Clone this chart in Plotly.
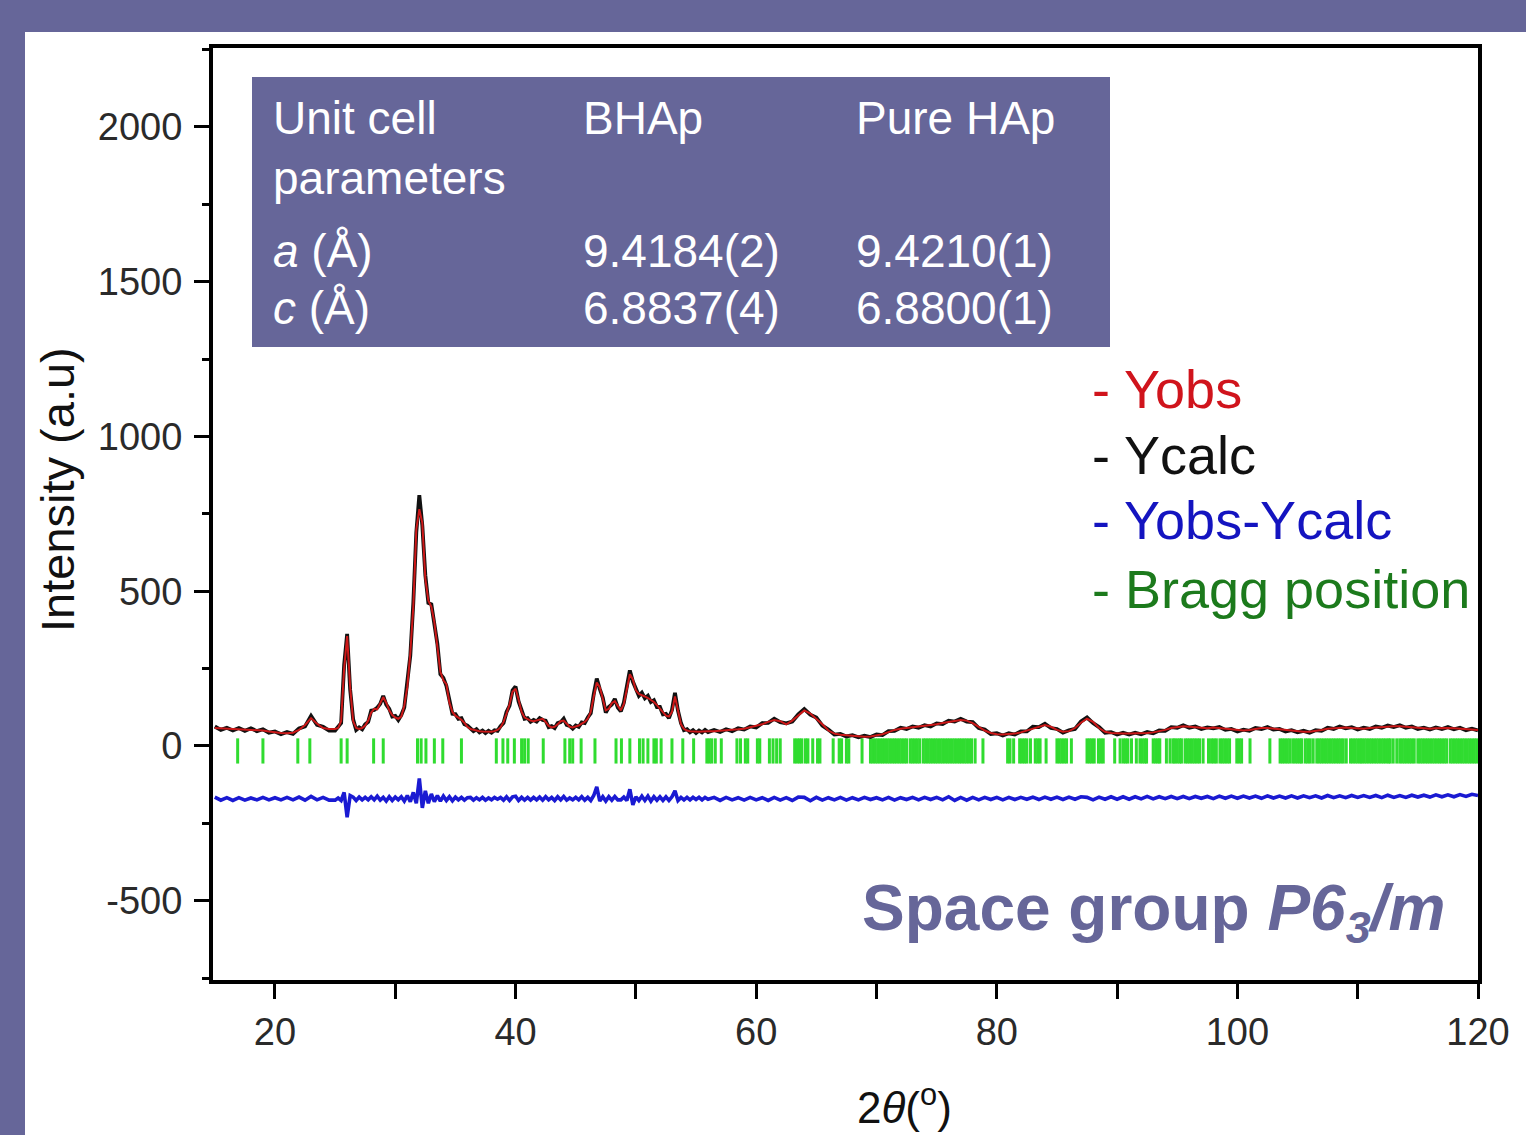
import plotly.graph_objects as go

# ---------------- data ----------------
# segment 1: 15.0 - 24.5 deg (step 0.5)
tt_1 = [15.0, 15.5, 16.0, 16.5, 17.0, 17.5, 18.0, 18.5, 19.0, 19.5,
        20.0, 20.5, 21.0, 21.5, 22.0, 22.5, 23.0, 23.5, 24.0, 24.5]
calc_1 = [58, 57, 56, 55, 55, 54, 54, 52, 50, 47,
          44, 42, 41, 43, 52, 68, 90, 72, 58, 55]
obs_1 = [63, 52, 59, 50, 58, 49, 57, 48, 54, 43,
         47, 38, 45, 39, 57, 63, 97, 68, 62, 50]
diff_1 = [-165, -175, -167, -176, -167, -175, -168, -174, -166, -174,
          -167, -174, -166, -174, -165, -175, -163, -174, -166, -175]

# segment 2: 25.0 - 36.0 deg (step 0.25)
tt_2 = [25.0, 25.25, 25.5, 25.75, 26.0, 26.25, 26.5, 26.75, 27.0,
        27.25, 27.5, 27.75, 28.0, 28.25, 28.5, 28.75, 29.0,
        29.25, 29.5, 29.75, 30.0, 30.25, 30.5, 30.75, 31.0,
        31.25, 31.5, 31.75, 32.0, 32.25, 32.5, 32.75, 33.0,
        33.25, 33.5, 33.75, 34.0, 34.25, 34.5, 34.75, 35.0,
        35.25, 35.5, 35.75, 36.0]
calc_2 = [55, 58, 80, 250, 355, 190, 80, 58, 55,
          58, 66, 82, 108, 120, 118, 140, 158,
          140, 115, 100, 92, 88, 95, 130, 190,
          300, 450, 700, 765, 720, 540, 470, 450,
          400, 320, 240, 212, 200, 140, 110, 98,
          92, 85, 75, 62]
obs_2 = [50, 64, 74, 262, 362, 182, 86, 52, 60,
         54, 70, 78, 114, 116, 124, 136, 162,
         134, 120, 95, 97, 84, 100, 124, 198,
         292, 462, 690, 810, 712, 552, 462, 458,
         392, 330, 232, 220, 194, 146, 104, 103,
         88, 90, 70, 66]
diff_2 = [-175, -168, -176, -150, -230, -160, -165, -176, -165,
          -174, -166, -174, -164, -174, -162, -175, -166,
          -178, -164, -176, -165, -174, -164, -178, -160,
          -180, -150, -185, -105, -200, -145, -185, -155,
          -180, -160, -178, -162, -176, -164, -177, -165,
          -174, -166, -175, -167]

# segment 3: 36.25 - 56.0 deg (step 0.25)
tt_3 = [36.25, 36.5, 36.75, 37.0, 37.25, 37.5, 37.75, 38.0,
        38.25, 38.5, 38.75, 39.0, 39.25, 39.5, 39.75, 40.0,
        40.25, 40.5, 40.75, 41.0, 41.25, 41.5, 41.75, 42.0,
        42.25, 42.5, 42.75, 43.0, 43.25, 43.5, 43.75, 44.0,
        44.25, 44.5, 44.75, 45.0, 45.25, 45.5, 45.75, 46.0,
        46.25, 46.5, 46.75, 47.0, 47.25, 47.5, 47.75, 48.0,
        48.25, 48.5, 48.75, 49.0, 49.25, 49.5, 49.75, 50.0,
        50.25, 50.5, 50.75, 51.0, 51.25, 51.5, 51.75, 52.0,
        52.25, 52.5, 52.75, 53.0, 53.25, 53.5, 53.75, 54.0,
        54.25, 54.5, 54.75, 55.0, 55.25, 55.5, 55.75, 56.0]
calc_3 = [55, 52, 50, 48, 47, 46, 46, 46,
          48, 52, 60, 78, 105, 135, 175, 185,
          150, 110, 92, 86, 82, 80, 82, 85,
          88, 78, 65, 60, 62, 70, 80, 82,
          72, 62, 60, 62, 66, 72, 78, 88,
          110, 160, 205, 190, 150, 115, 120, 138,
          145, 130, 115, 135, 190, 232, 215, 180,
          168, 165, 160, 155, 148, 142, 132, 120,
          108, 98, 95, 110, 160, 120, 70, 55,
          50, 48, 47, 46, 46, 47, 48, 48]
obs_3 = [58, 48, 54, 44, 50, 42, 49, 43,
         51, 49, 64, 74, 110, 130, 180, 192,
         144, 114, 88, 90, 78, 84, 79, 90,
         84, 82, 61, 64, 58, 74, 77, 88,
         68, 65, 56, 66, 62, 76, 74, 92,
         106, 168, 218, 184, 156, 108, 126, 134,
         152, 124, 112, 140, 186, 244, 208, 186,
         162, 172, 154, 162, 142, 148, 126, 126,
         102, 104, 90, 116, 172, 114, 74, 51,
         54, 44, 51, 42, 50, 44, 52, 45]
diff_3 = [-166, -175, -167, -174, -166, -175, -168, -174,
          -166, -172, -166, -175, -164, -176, -164, -162,
          -176, -166, -175, -166, -175, -166, -174, -165,
          -175, -164, -174, -166, -176, -164, -174, -163,
          -175, -168, -174, -166, -174, -164, -175, -166,
          -176, -160, -132, -178, -164, -178, -164, -175,
          -163, -174, -174, -165, -176, -140, -190, -164,
          -176, -162, -176, -162, -178, -164, -175, -164,
          -176, -164, -176, -164, -145, -176, -166, -174,
          -166, -174, -166, -173, -166, -174, -166, -172]

# segment 4: 56.5 - 120.0 deg (step 0.5)
tt_4 = [56.5, 57.0, 57.5, 58.0, 58.5, 59.0, 59.5, 60.0,
        60.5, 61.0, 61.5, 62.0, 62.5, 63.0, 63.5, 64.0, 64.5, 65.0,
        65.5, 66.0, 66.5, 67.0, 67.5, 68.0, 68.5, 69.0, 69.5, 70.0,
        70.5, 71.0, 71.5, 72.0, 72.5, 73.0, 73.5, 74.0, 74.5, 75.0,
        75.5, 76.0, 76.5, 77.0, 77.5, 78.0, 78.5, 79.0, 79.5, 80.0,
        80.5, 81.0, 81.5, 82.0, 82.5, 83.0, 83.5, 84.0, 84.5, 85.0,
        85.5, 86.0, 86.5, 87.0, 87.5, 88.0, 88.5, 89.0, 89.5, 90.0,
        90.5, 91.0, 91.5, 92.0, 92.5, 93.0, 93.5, 94.0, 94.5, 95.0,
        95.5, 96.0, 96.5, 97.0, 97.5, 98.0, 98.5, 99.0, 99.5, 100.0,
        100.5, 101.0, 101.5, 102.0, 102.5, 103.0, 103.5, 104.0, 104.5, 105.0,
        105.5, 106.0, 106.5, 107.0, 107.5, 108.0, 108.5, 109.0, 109.5, 110.0,
        110.5, 111.0, 111.5, 112.0, 112.5, 113.0, 113.5, 114.0, 114.5, 115.0,
        115.5, 116.0, 116.5, 117.0, 117.5, 118.0, 118.5, 119.0, 119.5, 120.0]
calc_4 = [48, 49, 50, 52, 54, 56, 60, 64,
          70, 78, 84, 80, 70, 82, 98, 115, 105, 88,
          70, 50, 40, 36, 34, 32, 31, 30, 31, 34,
          38, 45, 52, 56, 58, 60, 62, 64, 66, 70,
          74, 78, 82, 84, 82, 74, 62, 50, 42, 38,
          37, 38, 40, 44, 50, 58, 64, 68, 62, 52,
          46, 48, 58, 75, 88, 78, 58, 46, 42, 40,
          40, 40, 40, 41, 42, 44, 47, 52, 58, 62,
          64, 62, 60, 58, 57, 60, 58, 55, 52, 50,
          50, 52, 55, 58, 58, 56, 52, 50, 48, 47,
          46, 46, 48, 52, 56, 58, 60, 60, 58, 56,
          56, 58, 60, 62, 63, 64, 64, 62, 60, 58,
          56, 56, 57, 58, 58, 57, 56, 54, 53, 52]
obs_4 = [52, 45, 54, 48, 57, 53, 63, 60,
         74, 75, 88, 77, 73, 79, 102, 119, 101, 92,
         66, 53, 37, 39, 31, 35, 28, 33, 29, 37,
         35, 48, 49, 59, 55, 63, 59, 67, 63, 73,
         71, 82, 79, 88, 79, 77, 58, 53, 39, 41,
         34, 41, 37, 47, 47, 62, 61, 72, 58, 55,
         43, 51, 55, 79, 92, 74, 61, 43, 45, 37,
         43, 37, 43, 38, 45, 41, 50, 49, 61, 59,
         67, 59, 63, 55, 60, 57, 61, 52, 55, 47,
         53, 49, 58, 55, 61, 53, 55, 47, 51, 44,
         49, 43, 51, 49, 59, 55, 63, 57, 61, 53,
         59, 55, 63, 59, 66, 61, 67, 59, 63, 55,
         59, 53, 60, 55, 61, 54, 59, 51, 56, 50]
diff_4 = [-166, -176, -166, -174, -167, -175, -166, -174,
          -167, -176, -166, -175, -167, -176, -165, -166, -177, -166,
          -175, -167, -174, -166, -175, -167, -174, -166, -173, -167,
          -174, -166, -175, -167, -173, -166, -174, -166, -173, -166,
          -174, -164, -176, -166, -175, -166, -174, -166, -173, -166,
          -174, -166, -173, -166, -172, -165, -173, -165, -172, -165,
          -173, -165, -172, -164, -166, -174, -165, -172, -164, -172,
          -164, -172, -164, -171, -163, -171, -164, -170, -163, -170,
          -163, -170, -163, -169, -163, -170, -162, -169, -162, -169,
          -162, -168, -162, -169, -161, -168, -162, -168, -161, -168,
          -161, -167, -161, -168, -160, -167, -161, -167, -160, -166,
          -160, -166, -160, -167, -159, -166, -160, -166, -159, -165,
          -159, -165, -158, -164, -158, -164, -157, -163, -156, -160]

# Bragg reflection positions (2theta, deg)
bragg_pos = [16.9, 19.0, 21.9, 22.9, 25.5, 26.0, 28.2, 29.0, 31.85, 32.15,
             32.55, 33.25, 33.95, 35.5, 38.4, 38.95, 39.35, 39.9, 40.5, 40.75,
             41.05, 42.3, 44.1, 44.5, 44.75, 45.45, 46.6, 48.35, 48.8, 49.5,
             50.3, 50.6, 51.0, 51.5, 51.7, 52.1, 53.0, 53.9, 54.8, 55.9,
             56.1, 56.3, 56.6, 57.1, 58.4, 58.7, 59.1, 59.3, 60.1, 60.3,
             61.1, 61.4, 61.7, 62.0, 63.2, 63.4, 63.6, 63.8, 64.1, 64.3,
             64.7, 65.1, 65.3, 66.4, 66.9, 67.1, 67.5, 67.7, 68.8,
             69.5, 69.7, 69.9, 70.1, 70.3, 70.5, 70.7, 70.9, 71.1, 71.3,
             71.5, 71.7, 71.9, 72.1, 72.3, 72.5, 72.8, 73.0, 73.2, 73.4,
             73.6, 73.9, 74.1, 74.3, 74.5, 74.7, 74.9, 75.1, 75.3, 75.5,
             75.7, 75.9, 76.1, 76.3, 76.5, 76.7, 76.9, 77.1, 77.3, 77.5,
             77.7, 77.9, 78.2, 78.85, 80.9, 81.1, 81.4, 81.9, 82.1, 82.3,
             82.5, 82.8, 83.2, 83.4, 83.6, 84.1, 85.0, 85.2, 85.4, 85.6,
             85.8, 86.2, 87.5, 87.7, 87.9, 88.1, 88.45, 88.65, 88.85, 89.8,
             90.25, 90.5, 90.7, 90.9, 91.2, 91.6, 91.9, 92.1, 92.3, 92.45,
             93.0, 93.2, 93.4, 93.55, 94.1, 94.4, 94.65, 94.8, 95.0, 95.2,
             95.35, 95.65, 95.85, 96.05, 96.25, 96.45, 96.65, 96.85, 97.15, 97.6,
             97.85, 98.05, 98.25, 98.55, 98.75, 98.95, 99.15, 99.35, 99.95, 100.15,
             100.35, 101.05, 102.7, 103.55, 103.75, 103.95, 104.15, 104.35, 104.6, 104.8,
             105.0, 105.2, 105.35, 105.65, 105.85, 106.05, 106.3, 106.6, 106.8, 107.0,
             107.2, 107.4, 107.6, 107.8, 108.0, 108.2, 108.4, 108.6, 108.8, 109.05,
             109.4, 109.6, 109.8, 110.0, 110.2, 110.35, 110.55, 110.75, 110.95, 111.15,
             111.35, 111.55, 111.75, 111.95, 112.15, 112.35, 112.55, 112.7, 112.95, 113.25,
             113.5, 113.7, 113.9, 114.1, 114.3, 114.5, 114.7, 115.0, 115.2, 115.4,
             115.6, 115.8, 116.0, 116.2, 116.4, 116.6, 116.8, 117.0, 117.2, 117.4,
             117.7, 117.9, 118.1, 118.3, 118.5, 118.7, 118.9, 119.1, 119.3, 119.5,
             119.7, 119.9]
bragg_level = -16

x_ticks = [20, 40, 60, 80, 100, 120]
y_ticks = [-500, 0, 500, 1000, 1500, 2000]
y_tick_text = ["-500", "0", "500", "1000", "1500", "2000"]

table_header = ["Unit cell<br>parameters", "BHAp", "Pure HAp"]
table_row_a = ["<i>a</i> (Å)", "9.4184(2)", "9.4210(1)"]
table_row_c = ["<i>c</i> (Å)", "6.8837(4)", "6.8800(1)"]

legend_items = ["- Yobs", "- Ycalc", "- Yobs-Ycalc", "- Bragg position"]
legend_colors = ["#d0141c", "#111111", "#1414c0", "#1c7a1c"]

# ---------------- assemble ----------------
two_theta = tt_1 + tt_2 + tt_3 + tt_4
y_calc = calc_1 + calc_2 + calc_3 + calc_4
y_obs = obs_1 + obs_2 + obs_3 + obs_4
y_diff = diff_1 + diff_2 + diff_3 + diff_4

PURPLE = "#666699"
PL, PR, PT, PB = 213, 1478, 48, 980


def px_x(px):
    return (px - PL) / (PR - PL)


def px_y(py):
    return (PB - py) / (PB - PT)


fig = go.Figure()
fig.add_trace(go.Scatter(x=two_theta, y=y_diff, mode="lines",
                         line=dict(color="#1a1ad2", width=3.6), showlegend=False))
fig.add_trace(go.Scatter(x=bragg_pos, y=[bragg_level] * len(bragg_pos), mode="markers",
                         marker=dict(symbol="line-ns", size=18,
                                     line=dict(color="#30dc30", width=3)),
                         showlegend=False))
fig.add_trace(go.Scatter(x=two_theta, y=y_obs, mode="lines",
                         line=dict(color="#111111", width=3.8), showlegend=False))
fig.add_trace(go.Scatter(x=two_theta, y=y_calc, mode="lines",
                         line=dict(color="#cc1818", width=2), showlegend=False))

SANS = "Liberation Sans, Arial, sans-serif"
shapes = [
    dict(type="rect", xref="paper", yref="paper", layer="below",
         x0=px_x(25), x1=px_x(1530), y0=px_y(1140), y1=px_y(32),
         fillcolor="white", line=dict(width=0)),
    dict(type="rect", xref="paper", yref="paper", layer="above",
         x0=px_x(252), x1=px_x(1110), y0=px_y(347), y1=px_y(77),
         fillcolor=PURPLE, line=dict(width=0)),
]

ann = []
col_x = [271, 581, 854]
for i, txt in enumerate(table_header):
    ann.append(dict(text=txt, x=px_x(col_x[i]), y=px_y(90), xref="paper", yref="paper",
                    xanchor="left", yanchor="top", align="left", showarrow=False,
                    font=dict(family=SANS, size=46, color="white")))
for row, yy in ((table_row_a, 251), (table_row_c, 308)):
    for i, txt in enumerate(row):
        ann.append(dict(text=txt, x=px_x(col_x[i]), y=px_y(yy), xref="paper", yref="paper",
                        xanchor="left", yanchor="middle", showarrow=False,
                        font=dict(family=SANS, size=46, color="white")))
for txt, col, yy in zip(legend_items, legend_colors, [389, 455, 520, 589]):
    ann.append(dict(text=txt, x=px_x(1090), y=px_y(yy), xref="paper", yref="paper",
                    xanchor="left", yanchor="middle", showarrow=False,
                    font=dict(family=SANS, size=54, color=col)))
ann.append(dict(text="<b>Space group <i>P6<sub>3</sub>/m</i></b>", x=px_x(1447), y=px_y(912),
                xref="paper", yref="paper", xanchor="right", yanchor="middle", showarrow=False,
                font=dict(family=SANS, size=64, color=PURPLE)))
ann.append(dict(text="Intensity (a.u)", x=px_x(57), y=px_y(490), xref="paper", yref="paper",
                xanchor="center", yanchor="middle", textangle=-90, showarrow=False,
                font=dict(family=SANS, size=47, color="#111111")))
ann.append(dict(text="2<i>θ</i>(<sup>o</sup>)", x=px_x(905), y=px_y(1104), xref="paper", yref="paper",
                xanchor="center", yanchor="middle", showarrow=False,
                font=dict(family=SANS, size=44, color="#111111")))

fig.update_layout(
    width=1526, height=1135, autosize=False,
    margin=dict(l=PL, r=1526 - PR, t=PT, b=1135 - PB, pad=0),
    paper_bgcolor=PURPLE, plot_bgcolor="white",
    shapes=shapes, annotations=ann,
    xaxis=dict(range=[14.85, 120], tickvals=x_ticks, ticktext=[str(v) for v in x_ticks],
               ticks="outside", ticklen=15, tickwidth=3, tickcolor="black",
               minor=dict(dtick=10, ticks="outside", ticklen=15, tickwidth=3, tickcolor="black"),
               showline=True, linecolor="black", linewidth=4, mirror=True,
               showgrid=False, zeroline=False, ticklabelstandoff=0,
               tickfont=dict(family=SANS, size=38, color="#2a2a2a")),
    yaxis=dict(range=[-756, 2255], tickvals=y_ticks, ticktext=y_tick_text,
               ticks="outside", ticklen=15, tickwidth=3, tickcolor="black",
               minor=dict(dtick=250, ticks="outside", ticklen=7, tickwidth=3, tickcolor="black"),
               showline=True, linecolor="black", linewidth=4, mirror=True,
               showgrid=False, zeroline=False, ticklabelstandoff=4,
               tickfont=dict(family=SANS, size=38, color="#2a2a2a")),
)

fig.write_html("out.html")
